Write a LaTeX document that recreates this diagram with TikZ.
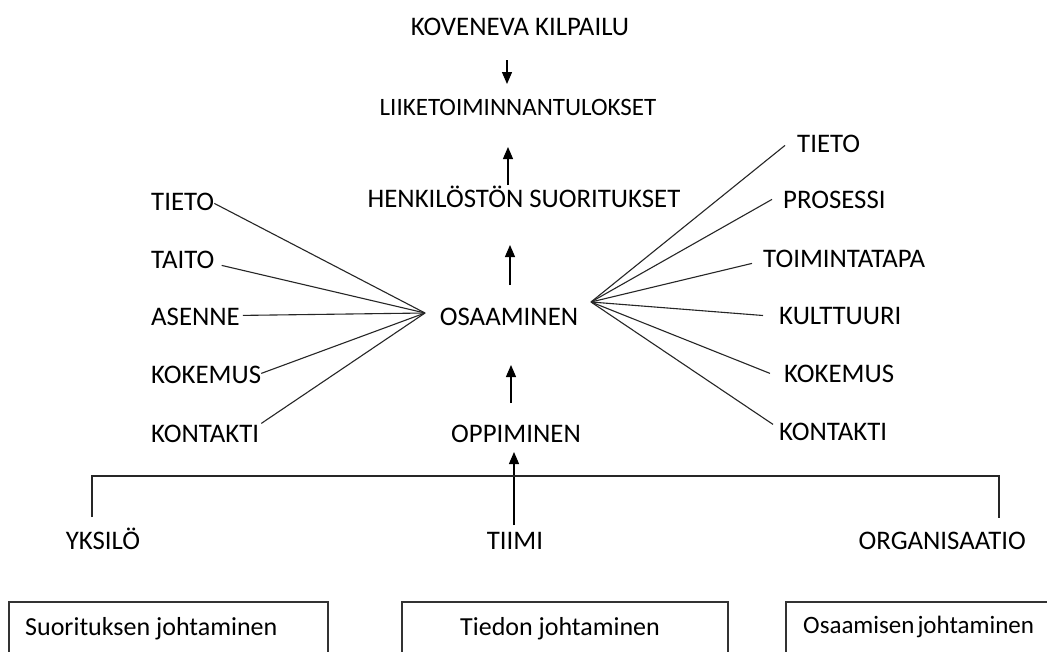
\documentclass[tikz,border=0pt]{standalone}
\usepackage{fontspec}
\setmainfont{Carlito}
\usetikzlibrary{arrows.meta}
\begin{document}
\begin{tikzpicture}[x=1pt,y=-1pt,
  lab/.style={inner sep=0pt, font=\fontsize{26.8}{29}\selectfont, text=black},
  boxlab/.style={inner sep=0pt, font=\fontsize{26}{28}\selectfont, text=black},
  ln/.style={line width=1.1pt, draw=black!85},
  arr/.style={line width=1.3pt, draw=black, -{Triangle[length=12pt,width=10pt]}},
  frame/.style={draw=black!80, line width=1.2pt}]
\useasboundingbox (0,0) rectangle (1047,651);
\fill[white] (0,0) rectangle (1047,651);

% central column
\node[lab, anchor=base] (kov)   at (520,35)  {KOVENEVA KILPAILU};
\node[lab, anchor=base, font=\fontsize{25}{28}\selectfont] (liike) at (518,115) {LIIKETOIMINNANTULOKSET};
\node[lab, anchor=base] (henk)  at (524,207) {HENKILÖSTÖN SUORITUKSET};
\node[lab, anchor=base] (osa)   at (509,325) {OSAAMINEN};
\node[lab, anchor=base] (opp)   at (516,442) {OPPIMINEN};

% left items
\node[lab, anchor=base west] (lTieto)    at (151,210) {TIETO};
\node[lab, anchor=base west] (lTaito)    at (151,268) {TAITO};
\node[lab, anchor=base west] (lAsenne)   at (151,325) {ASENNE};
\node[lab, anchor=base west] (lKokemus)  at (151,383) {KOKEMUS};
\node[lab, anchor=base west] (lKontakti) at (151,442) {KONTAKTI};

% right items
\node[lab, anchor=base west] (rTieto)    at (797,152) {TIETO};
\node[lab, anchor=base west] (rProsessi) at (783,208) {PROSESSI};
\node[lab, anchor=base west] (rToim)     at (763,267) {TOIMINTATAPA};
\node[lab, anchor=base west] (rKult)     at (779,324) {KULTTUURI};
\node[lab, anchor=base west] (rKokemus)  at (784,382) {KOKEMUS};
\node[lab, anchor=base west] (rKontakti) at (779,440) {KONTAKTI};

% bottom level
\node[lab, anchor=base] (yks)   at (103,549) {YKSILÖ};
\node[lab, anchor=base] (tiimi) at (515,549) {TIIMI};
\node[lab, anchor=base east] (org) at (1026,549) {ORGANISAATIO};

% convergence points
\coordinate (cL) at (425,313);
\coordinate (cR) at (591,302);

% left fan
\draw[ln] ([yshift=-2pt]lTieto.east) -- (cL);
\draw[ln] ([xshift=7pt,yshift=-6pt]lTaito.east) -- (cL);
\draw[ln] ([xshift=3pt,yshift=1pt]lAsenne.east) -- (cL);
\draw[ln] ([yshift=1pt]lKokemus.east) -- (cL);
\draw[ln] ([xshift=2pt,yshift=10pt]lKontakti.east) -- (cL);

% right fan
\draw[ln] (cR) -- ([xshift=-12pt,yshift=-2pt]rTieto.west);
\draw[ln] (cR) -- ([xshift=-11pt]rProsessi.west);
\draw[ln] (cR) -- ([xshift=-11pt,yshift=-5pt]rToim.west);
\draw[ln] (cR) -- ([xshift=-16pt]rKult.west);
\draw[ln] (cR) -- ([xshift=-14pt]rKokemus.west);
\draw[ln] (cR) -- ([xshift=-6pt,yshift=7pt]rKontakti.west);

% vertical arrows
\draw[arr] ([yshift=-25pt]kov.base -| 507,0) -- ([yshift=31pt]liike.base -| 507,0);
\draw[arr] ([yshift=22pt]henk.base -| 508,0) -- ([yshift=-32pt]liike.base -| 508,0);
\draw[arr] ([yshift=40pt]osa.base -| 510,0) -- ([yshift=-38pt]henk.base -| 510,0);
\draw[arr] ([yshift=39pt]opp.base -| 511,0) -- ([yshift=-40pt]osa.base -| 511,0);
\draw[arr] ([yshift=24pt]tiimi.base -| 514,0) -- ([yshift=-10pt]opp.base -| 514,0);

% bracket
\coordinate (bL) at (92,476);
\coordinate (bR) at (999,476);
\draw[ln, line width=1.3pt] ([yshift=32pt]yks.base -| bL) -- (bL) -- (bR) -- ([yshift=31pt]org.base -| bR);

% boxes
\draw[frame] (9,602) rectangle (328,665);
\draw[frame] (402,602) rectangle (728,665);
\draw[frame] (786,602) rectangle (1060,665);
\node[boxlab, anchor=base west] (b1) at (25,635) {Suorituksen johtaminen};
\node[boxlab, anchor=base west] (b2) at (460,635) {Tiedon johtaminen};
\node[boxlab, anchor=base west, font=\fontsize{25}{27}\selectfont] (b3) at (803,633) {Osaamisen\hspace{0.12em}johtaminen};
\end{tikzpicture}
\end{document}
